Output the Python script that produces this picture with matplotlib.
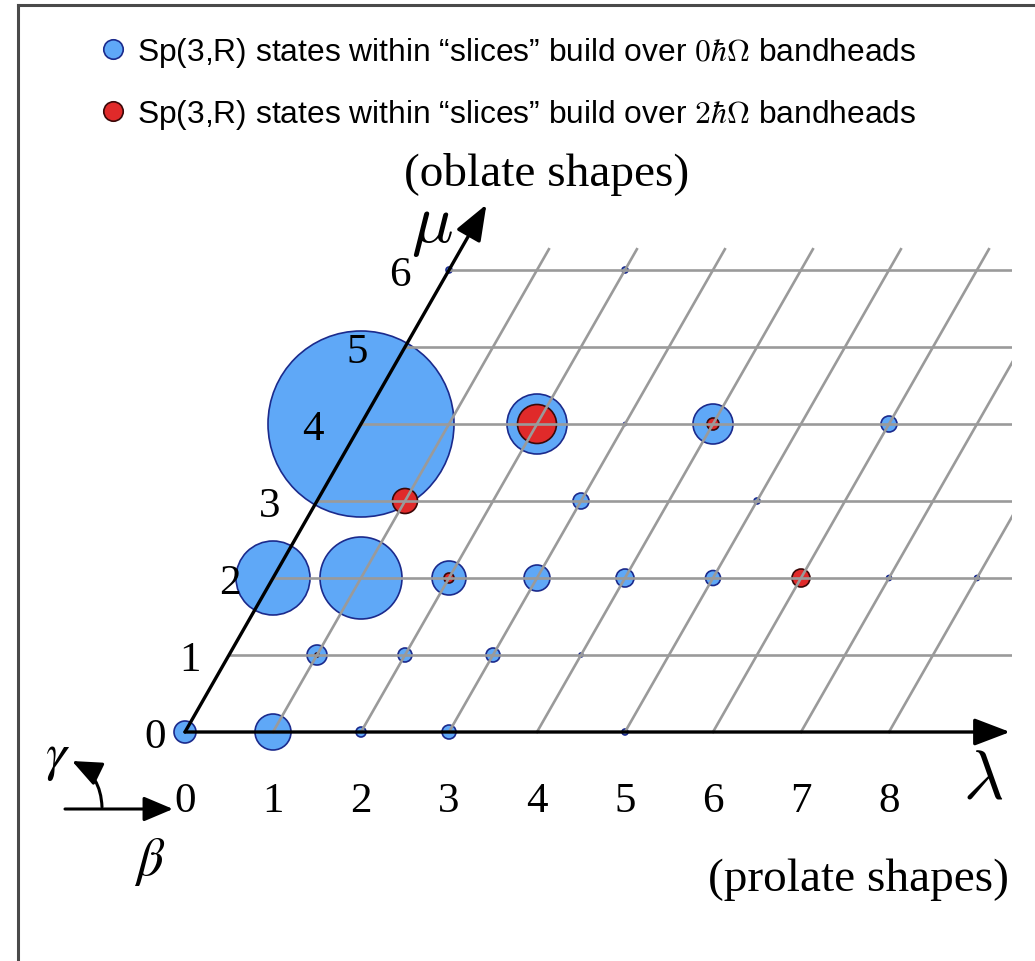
import numpy as np
import matplotlib
matplotlib.use("Agg")
import matplotlib.pyplot as plt
from matplotlib.transforms import Affine2D
from matplotlib.lines import Line2D
from matplotlib.patches import Rectangle, FancyArrowPatch

# ---------------- data ----------------
lam_ticks = [0, 1, 2, 3, 4, 5, 6, 7, 8]
mu_ticks = [0, 1, 2, 3, 4, 5, 6]

# Sp(3,R) states over 0 hbar Omega bandheads (blue): lambda, mu, relative size
blue_lam = [0, 1, 2, 3, 5, 1, 2, 3, 4, 0, 1, 2, 3, 4, 5, 7, 8, 3, 5, 0, 2, 3, 4, 6, 0, 2]
blue_mu = [0, 0, 0, 0, 0, 1, 1, 1, 1, 2, 2, 2, 2, 2, 2, 2, 2, 3, 3, 4, 4, 4, 4, 4, 6, 6]
blue_size = [11, 18, 5, 7, 3, 10, 7, 7, 2, 37, 41, 17, 13, 9, 7.5, 2.5, 2.5, 8, 3, 93, 30, 1.5, 20, 8, 3, 3]

# Sp(3,R) states over 2 hbar Omega bandheads (red)
red_lam = [1, 6, 2, 2, 4, 1]
red_mu = [3, 2, 2, 4, 4, 1]
red_size = [12.5, 9, 5, 19.5, 6, 2]

legend_labels = [
    r"Sp(3,R) states within “slices” build over $0\hbar\Omega$ bandheads",
    r"Sp(3,R) states within “slices” build over $2\hbar\Omega$ bandheads",
]

# ---------------- styling / layout ----------------
BLUE = "#5fa8f7"
BLUE_EDGE = "#1b2a8c"
RED = "#e02a2a"
RED_EDGE = "#3a0808"
GRID = "#9a9a9a"
SERIF = ["Liberation Serif", "DejaVu Serif"]
SANS = ["Liberation Sans", "DejaVu Sans"]
mu_label_dx = [-30, -39, -43, -47, -48, -48, -49]   # pixel offsets of the mu labels

W, H, DPI = 1035, 962, 100
fig = plt.figure(figsize=(W / DPI, H / DPI), dpi=DPI)
ax = fig.add_axes([0, 0, 1, 1])
ax.set_axis_off()
ox, oy, ux, uy = 185.0, 733.0, 88.0, 77.0
ax.set_xlim(-ox / ux, (W - ox) / ux)
ax.set_ylim(-(H - oy) / uy, oy / uy)

# skewed (lambda, mu) frame: x = lambda + mu/2
skew = Affine2D(np.array([[1.0, 0.5, 0.0], [0.0, 1.0, 0.0], [0.0, 0.0, 1.0]]))
T = skew + ax.transData

px2pt = 72.0 / DPI


def area(r):
    return (2 * np.asarray(r, float) * px2pt) ** 2


# circles
ax.scatter(blue_lam, blue_mu, s=area(blue_size), c=BLUE, edgecolors=BLUE_EDGE,
           linewidths=1.2, transform=T, zorder=2)
ax.scatter(red_lam, red_mu, s=area(red_size), c=RED, edgecolors=RED_EDGE,
           linewidths=1.2, transform=T, zorder=3)

# grid (clipped on the right)
xr = (1012 - ox) / ux
clip = Rectangle((-10, -10), 10 + xr, 30, transform=ax.transData)
for m in mu_ticks[1:]:
    ln, = ax.plot([0, 12], [m, m], color=GRID, lw=1.9, transform=T, zorder=4)
    ln.set_clip_path(clip)
for l in lam_ticks[1:]:
    ln, = ax.plot([l, l], [0, 6.27], color=GRID, lw=1.9, transform=T, zorder=4)
    ln.set_clip_path(clip)

# axes arrows
arrow_kw = dict(arrowstyle="-|>,head_length=1.1,head_width=0.42", mutation_scale=20,
                color="black", lw=2.4, shrinkA=0, shrinkB=0, zorder=6)
ax.add_patch(FancyArrowPatch((0, 0), ((1010 - ox) / ux, 0), transform=ax.transData, **arrow_kw))
ax.add_patch(FancyArrowPatch((0, 0), (0, 6.85), transform=T, **arrow_kw))

# tick labels
for l in lam_ticks:
    ax.text(l, -0.83, str(l), transform=ax.transData, ha="center", va="center_baseline",
            fontsize=31, family=SERIF, zorder=7)
for m, dx in zip(mu_ticks, mu_label_dx):
    ax.text(m / 2 + dx / ux, m, str(m), transform=ax.transData, ha="center",
            va="center_baseline", fontsize=31, family=SERIF, zorder=7)

# axis symbols and annotations
ax.text((983 - ox) / ux, (oy - 779) / uy, r"$\lambda$", fontsize=50, ha="center",
        va="center", math_fontfamily="cm", zorder=7)
ax.text((432 - ox) / ux, (oy - 226) / uy, r"$\mu$", fontsize=50, ha="center",
        va="center", math_fontfamily="cm", zorder=7)
ax.text((547 - ox) / ux, (oy - 175) / uy, "(oblate shapes)", fontsize=34, family=SERIF,
        ha="center", va="center", zorder=7)
ax.text((858 - ox) / ux, (oy - 880) / uy, "(prolate shapes)", fontsize=34, family=SERIF,
        ha="center", va="center", zorder=7)

# beta / gamma indicator
small_kw = dict(arrowstyle="-|>,head_length=0.9,head_width=0.38", mutation_scale=20,
                color="black", lw=2.2, shrinkA=0, shrinkB=0, zorder=6)
ax.add_patch(FancyArrowPatch(((65 - ox) / ux, (oy - 810) / uy), ((173 - ox) / ux, (oy - 810) / uy),
                             transform=ax.transData, **small_kw))
ax.add_patch(FancyArrowPatch(((102 - ox) / ux, (oy - 808) / uy), ((72 - ox) / ux, (oy - 762) / uy),
                             connectionstyle="arc3,rad=0.3", transform=ax.transData, **small_kw))
ax.text((58 - ox) / ux, (oy - 757) / uy, r"$\gamma$", fontsize=38, ha="center", va="center",
        math_fontfamily="stix", zorder=7)
ax.text((150 - ox) / ux, (oy - 862) / uy, r"$\beta$", fontsize=38, ha="center", va="center",
        math_fontfamily="stix", zorder=7)

# legend
handles = [
    Line2D([], [], ls="none", marker="o", markersize=14, markerfacecolor=BLUE,
           markeredgecolor=BLUE_EDGE, markeredgewidth=1.2),
    Line2D([], [], ls="none", marker="o", markersize=14, markerfacecolor=RED,
           markeredgecolor=RED_EDGE, markeredgewidth=1.2),
]
leg = fig.legend(handles, legend_labels, loc="upper left", bbox_to_anchor=(99 / W, 1 - 36 / H),
                 frameon=False, prop={"family": SANS, "size": 22.9}, handlelength=0.9,
                 handletextpad=0.3, labelspacing=0.88, borderpad=0, borderaxespad=0)
for t in leg.get_texts():
    t.set_math_fontfamily("cm")

# frame
fig.add_artist(Line2D([18 / W, 18 / W], [0, 1 - 6 / H], color="#4a4a4a", lw=2.2,
                      transform=fig.transFigure))
fig.add_artist(Line2D([18 / W, 1], [1 - 6 / H, 1 - 6 / H], color="#4a4a4a", lw=2.2,
                      transform=fig.transFigure))

fig.savefig("out.png", dpi=DPI)
